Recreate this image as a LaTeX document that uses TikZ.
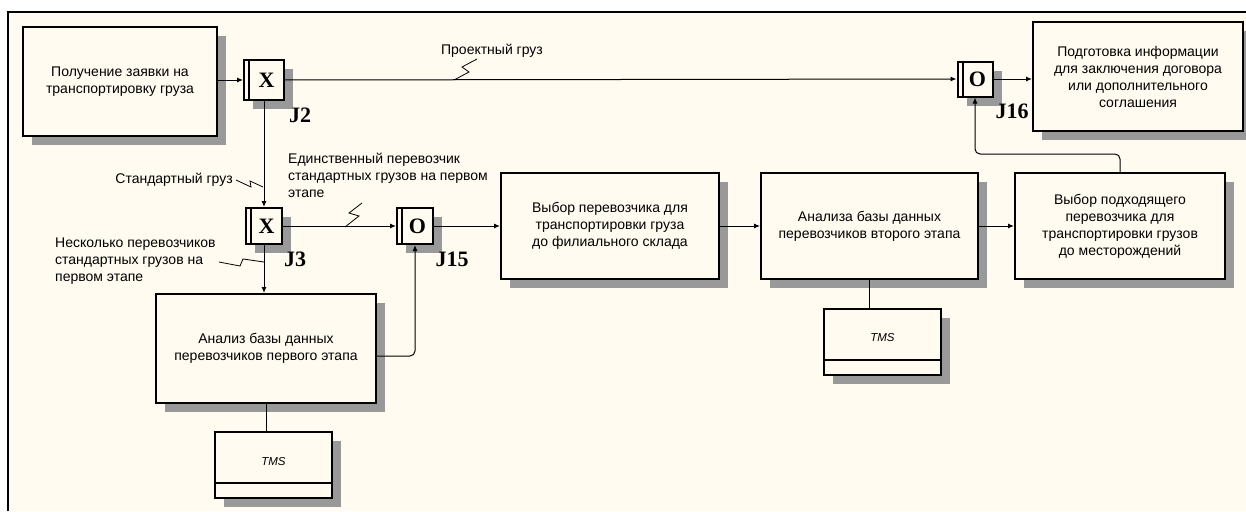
\documentclass[tikz,border=0pt]{standalone}
\usepackage{fontspec}
\setmainfont{Liberation Sans}
\newfontfamily\jfont{Liberation Serif}
\usetikzlibrary{arrows.meta,shadows}
\definecolor{paper}{RGB}{255,251,240}

\begin{document}
\begin{tikzpicture}[x=1pt,y=-1pt,
    every node/.style={font=\fontsize{14}{17}\selectfont},
    shade box/.style={drop shadow={shadow xshift=9pt,shadow yshift=-9pt,fill=black!40,opacity=1}},
    act/.style={draw,line width=2pt,fill=paper,align=center,inner sep=0pt,shade box},
    junc/.style={draw,line width=2pt,fill=paper,minimum size=36pt,inner sep=0pt,shade box,
        font=\jfont\bfseries\fontsize{22}{22}\selectfont},
    jlab/.style={font=\jfont\bfseries\fontsize{22}{22}\selectfont,inner sep=0pt},
    mech/.style={draw,line width=2pt,fill=paper,minimum width=117pt,minimum height=66pt,
        inner sep=0pt,shade box,font=\itshape\fontsize{11.5}{11.5}\selectfont},
    lbl/.style={align=left,inner sep=0pt},
    arr/.style={-{Latex[length=6pt,width=5pt]},line width=1pt},
    lnk/.style={line width=1pt},
    zig/.style={line width=0.8pt}]
    \useasboundingbox (0,0) rectangle (1246,511);
    \fill[paper] (8,12) rectangle (1246,511);
    \draw[line width=2pt] (8,511) -- (8,12) -- (1246,12);

    % activities
    \node[act,minimum width=194pt,minimum height=109pt] (req) at (120,81.5)
        {Получение заявки на\\транспортировку груза};
    \node[act,minimum width=210pt,minimum height=109pt] (info) at (1138,76.5)
        {Подготовка информации\\для заключения договора\\или дополнительного\\соглашения};
    \node[act,minimum width=220pt,minimum height=109pt] (db1) at (266,348.5)
        {Анализ базы данных\\перевозчиков первого этапа};
    \node[act,minimum width=218pt,minimum height=106pt] (sel1) at (610,226)
        {Выбор перевозчика для\\транспортировки груза\\до филиального склада};
    \node[act,minimum width=217pt,minimum height=106pt] (db2) at (869.5,226)
        {Анализа базы данных\\перевозчиков второго этапа};
    \node[act,minimum width=210pt,minimum height=106pt] (sel2) at (1120,226)
        {Выбор подходящего\\перевозчика для\\транспортировки грузов\\до месторождений};

    % mechanisms
    \node[mech] (tms1) at (273.5,465) {\raisebox{8pt}{TMS}};
    \node[mech] (tms2) at (882.5,341.5) {\raisebox{8pt}{TMS}};

    % junctions
    \node[junc,minimum size=40pt] (j2) at (264,80) {\hspace*{5pt}X};
    \node[junc] (j3) at (264,226) {\hspace*{5pt}X};
    \node[junc] (j15) at (415,226) {\hspace*{5pt}O};
    \node[junc,minimum size=35pt] (j16) at (975,79) {\hspace*{5pt}O};
    \foreach \j in {j2,j3,j15,j16}
        \draw[line width=2pt] ([xshift=6pt]\j.north west) -- ([xshift=6pt]\j.south west);
    \foreach \t in {tms1,tms2}
        \draw[line width=2pt] ([yshift=16pt]\t.south west) -- ([yshift=16pt]\t.south east);

    \node[jlab] (l2) at (300,115) {J2};
    \node[jlab] (l3) at (295,259) {J3};
    \node[jlab] (l15) at (452,259) {J15};
    \node[jlab] (l16) at (1012,111) {J16};

    % arrows
    \draw[arr] (req.east |- j2.west) -- (j2.west);
    \draw[arr] (j2.east) -- (j16.west);
    \draw[arr] (j16.east) -- (j16.east -| info.west);
    \draw[arr] (j2.south) -- (j3.north);
    \draw[arr] (j3.east) -- (j15.west);
    \draw[arr] (j3.south) -- (j3.south |- db1.north);
    \draw[arr,rounded corners=5pt] ([yshift=-7.5pt]db1.east) -| (j15.south);
    \draw[arr] (j15.east) -- (sel1.west);
    \draw[arr] (sel1.east) -- (db2.west);
    \draw[arr] (db2.east) -- (sel2.west);
    \draw[arr,rounded corners=5pt] (sel2.north) -- ++(0,-18) -| (j16.south);
    \draw[lnk] (db1.south) -- (db1.south |- tms1.north);
    \draw[lnk] (db2.south) -- (db2.south |- tms2.north);

    % labels
    \node (proj) at (492,51) {Проектный груз};
    \draw[zig] (454,80) -- (469,72) -- (462,67) -- (477,59);
    \node[anchor=east,inner sep=0pt] (std) at (233,180) {Стандартный груз};
    \draw[zig] (236,180) -- (251,187) -- (250,181) -- (263,187);
    \node[lbl,anchor=north west] (one) at (288,153)
        {Единственный перевозчик\\стандартных грузов на первом\\этапе};
    \draw[zig] (345,227) -- (359,216) -- (349,213) -- (362,203);
    \node[lbl,anchor=north west] (many) at (55,238)
        {Несколько перевозчиков\\стандартных грузов на\\первом этапе};
    \draw[zig] (219,262) -- (240,266) -- (243,259) -- (264,262);
\end{tikzpicture}
\end{document}
